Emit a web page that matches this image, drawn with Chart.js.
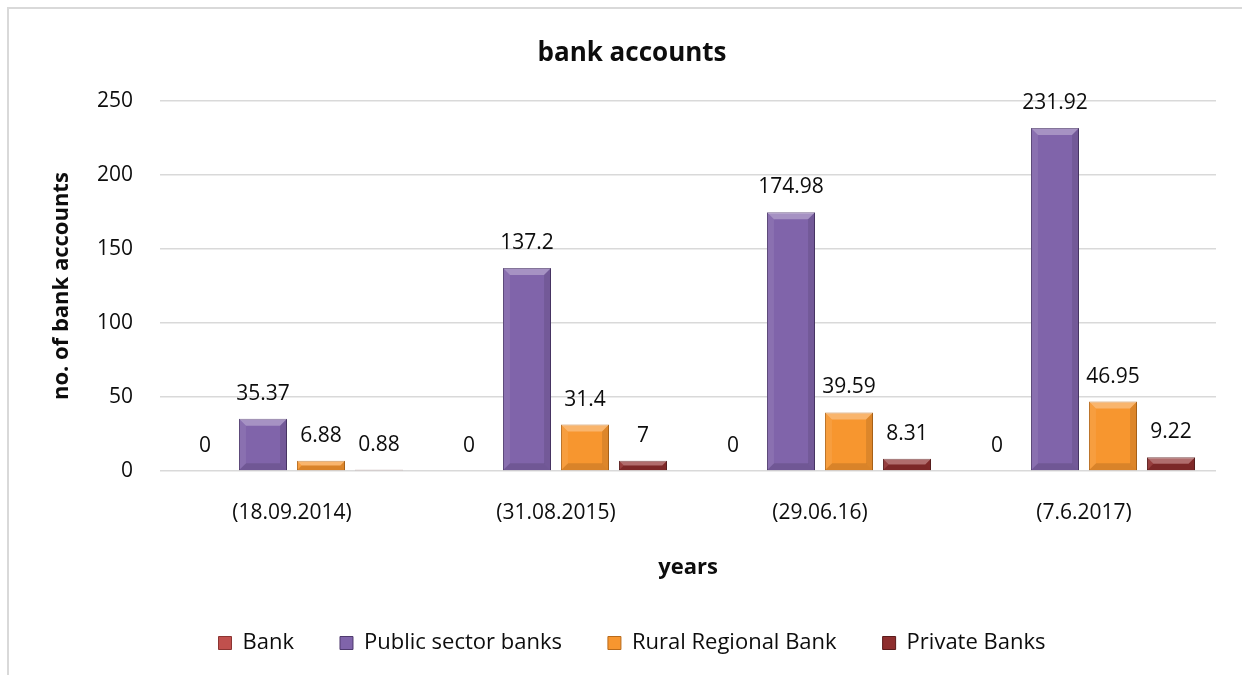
<!DOCTYPE html>
<html>
<head>
<meta charset="utf-8">
<title>bank accounts</title>
<script src="https://cdn.jsdelivr.net/npm/chart.js@4.4.1/dist/chart.umd.min.js"></script>
<style>
  html, body { margin: 0; padding: 0; background: #fff; overflow: hidden; }
  #wrap { position: relative; width: 1242px; height: 675px; }
  #frame {
    position: absolute; left: 7px; top: 7px; width: 1400px; height: 800px;
    border-left: 2px solid #d9d9d9; border-top: 2px solid #d9d9d9;
  }
  #chart { position: absolute; left: 0; top: 0; }
</style>
</head>
<body>
<div id="wrap">
  <div id="frame"></div>
  <canvas id="chart" width="1242" height="675"></canvas>
</div>
<script>
// chart data
const categories = ['(18.09.2014)', '(31.08.2015)', '(29.06.16)', '(7.6.2017)'];
const seriesNames = ['Bank', 'Public sector banks', 'Rural Regional Bank', 'Private Banks'];
const bankValues = [0, 0, 0, 0];
const publicValues = [35.37, 137.2, 174.98, 231.92];
const ruralValues = [6.88, 31.4, 39.59, 46.95];
const privateValues = [0.88, 7, 8.31, 9.22];
const yTicks = [0, 50, 100, 150, 200, 250];

const fontFamily = '"Open Sans", "Noto Sans", sans-serif';
const textColor = '#0d0d0d';

// draws value labels above each bar
const valueLabels = {
    id: 'valueLabels',
    afterDatasetsDraw(chart) {
        const ctx = chart.ctx;
        ctx.save();
        ctx.font = '21px ' + fontFamily;
        ctx.fillStyle = textColor;
        ctx.textAlign = 'center';
        ctx.textBaseline = 'middle';
        chart.data.datasets.forEach((ds, i) => {
            chart.getDatasetMeta(i).data.forEach((bar, j) => {
                ctx.fillText(String(ds.data[j]), bar.x, bar.y - 25);
            });
        });
        ctx.restore();
    }
};

// fake the bevelled look of the bars
const bevel = {
    id: 'bevel',
    afterDatasetsDraw(chart) {
        const ctx = chart.ctx;
        const poly = (pts, color) => {
            ctx.beginPath();
            ctx.moveTo(pts[0][0], pts[0][1]);
            for (let k = 1; k < pts.length; k++) ctx.lineTo(pts[k][0], pts[k][1]);
            ctx.closePath();
            ctx.fillStyle = color;
            ctx.fill();
        };
        ctx.save();
        chart.data.datasets.forEach((ds, i) => {
            chart.getDatasetMeta(i).data.forEach(bar => {
                const p = bar.getProps(['x', 'y', 'base', 'width'], true);
                const l = p.x - p.width / 2, r = p.x + p.width / 2;
                const t = Math.min(p.y, p.base), b = Math.max(p.y, p.base);
                const h = b - t;
                if (h < 1) return;
                const s = Math.min(7, h / 2, p.width / 2);
                poly([[l, t], [r, t], [r - s, t + s], [l + s, t + s]], 'rgba(255,255,255,0.3)');
                poly([[l, t], [l + s, t + s], [l + s, b - s], [l, b]], 'rgba(255,255,255,0.08)');
                poly([[r, t], [r - s, t + s], [r - s, b - s], [r, b]], 'rgba(0,0,0,0.1)');
                poly([[l, b], [l + s, b - s], [r - s, b - s], [r, b]], 'rgba(0,0,0,0.12)');
            });
        });
        ctx.restore();
    }
};

const ctx = document.getElementById('chart').getContext('2d');
const chart = new Chart(ctx, {
    type: 'bar',
    data: {
        labels: categories,
        datasets: [
            { label: seriesNames[0], data: bankValues, backgroundColor: '#C0504D', borderColor: '#8c3532', borderWidth: 1 },
            { label: seriesNames[1], data: publicValues, backgroundColor: '#8064AA', borderColor: '#4f3a6e', borderWidth: 1 },
            { label: seriesNames[2], data: ruralValues, backgroundColor: '#F7962F', borderColor: '#b86a1a', borderWidth: 1 },
            { label: seriesNames[3], data: privateValues, backgroundColor: '#8E2E2E', borderColor: '#5a1a1a', borderWidth: 1 }
        ]
    },
    options: {
        responsive: false,
        animation: false,
        categoryPercentage: 0.879,
        barPercentage: 0.828,
        layout: { padding: { left: 48, right: 26, top: 0, bottom: 11 } },
        plugins: {
            title: {
                display: true,
                text: 'bank accounts',
                color: textColor,
                font: { family: fontFamily, size: 26, weight: 'bold' },
                padding: { top: 38, bottom: 32 }
            },
            legend: {
                position: 'bottom',
                labels: {
                    color: textColor,
                    font: { family: fontFamily, size: 22 },
                    boxWidth: 13,
                    boxHeight: 13,
                    padding: 46
                }
            },
            tooltip: { enabled: false }
        },
        scales: {
            x: {
                grid: { display: false },
                border: { display: false },
                ticks: { color: textColor, font: { family: fontFamily, size: 21 }, padding: 21 },
                title: {
                    display: true,
                    text: 'years',
                    color: textColor,
                    font: { family: fontFamily, size: 22, weight: 'bold' },
                    padding: { top: 0, bottom: 5 }
                },
                afterFit(scale) { scale.height = 115; }
            },
            y: {
                min: yTicks[0],
                max: yTicks[yTicks.length - 1],
                afterBuildTicks(scale) { scale.ticks = yTicks.map(v => ({ value: v })); },
                grid: { color: '#d9d9d9', lineWidth: 1.5, drawTicks: false },
                border: { display: false },
                ticks: { color: textColor, font: { family: fontFamily, size: 21 }, padding: 27 },
                title: {
                    display: true,
                    text: 'no. of bank accounts',
                    color: textColor,
                    font: { family: fontFamily, size: 22, weight: 'bold' },
                    padding: { top: 1, bottom: 0 }
                },
                afterFit(scale) { scale.width = 112; }
            }
        }
    },
    plugins: [bevel, valueLabels]
});
</script>
</body>
</html>
